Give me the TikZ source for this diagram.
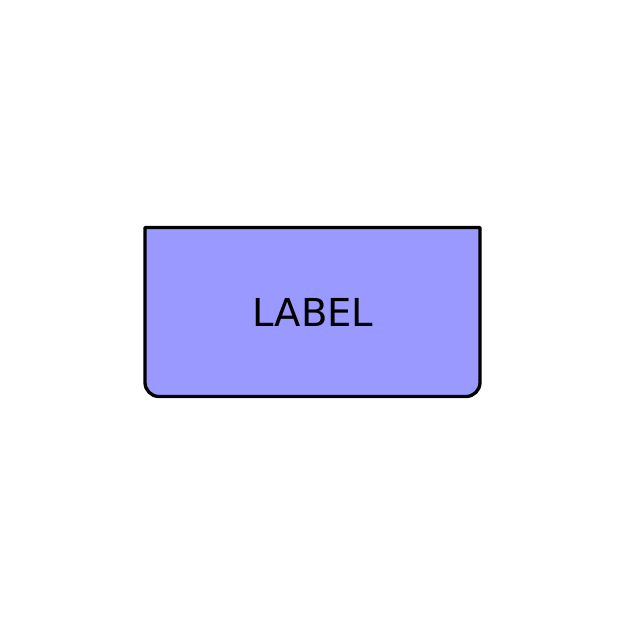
\documentclass[tikz,border=0pt]{standalone}
\usepackage{fontspec}
\setmainfont{DejaVu Sans}
\definecolor{boxfill}{HTML}{9999FF}
\begin{document}
\begin{tikzpicture}[x=1pt,y=1pt,
  boxshape/.style={draw=black, fill=boxfill, line width=3.3pt, line join=round},
  labeltext/.style={font=\fontsize{38.5}{46}\selectfont, inner sep=0pt}]
\useasboundingbox (0,0) rectangle (625,625);
\draw[boxshape] (145,397.5) -- (480,397.5) -- (480,242.5)
  arc[start angle=0, end angle=-90, radius=14] -- (159,228.5)
  arc[start angle=270, end angle=180, radius=14] -- cycle;
\node[labeltext] (lbl) at (313,312.5) {LABEL};
\end{tikzpicture}
\end{document}
